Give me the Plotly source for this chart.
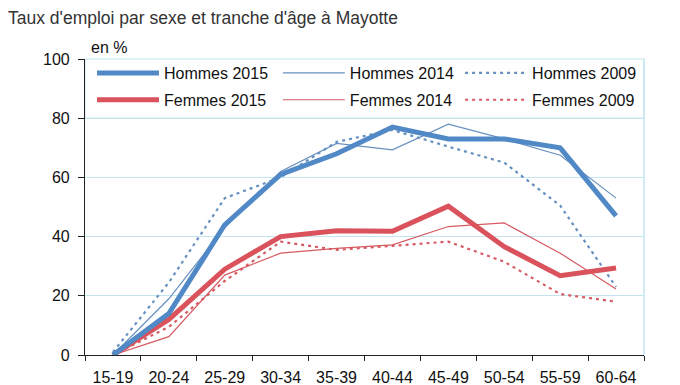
import plotly.graph_objects as go

categories = ["15-19", "20-24", "25-29", "30-34", "35-39", "40-44", "45-49", "50-54", "55-59", "60-64"]

hommes_2015 = [0, 14, 44, 61, 68, 77, 73, 73, 70, 47]
hommes_2014 = [0, 19, 43, 62, 71.5, 69.3, 78, 73, 67.5, 53]
hommes_2009 = [1, 24.5, 53, 60, 72, 76, 70.4, 65, 50.5, 23]
femmes_2015 = [0, 12, 29, 40, 42, 41.8, 50.3, 36.6, 26.8, 29.4]
femmes_2014 = [0, 6.2, 27, 34.4, 36, 37.2, 43.4, 44.6, 34.4, 22.3]
femmes_2009 = [0, 9.5, 25, 38.3, 35.5, 37, 38.3, 31.5, 20.6, 18]

y_ticks = [0, 20, 40, 60, 80, 100]

BLUE = "#5089c6"
BLUE_THIN = "#6790c0"
RED = "#d9525c"
RED_THIN = "#d65a62"
GRID = "#c4e5f0"

fig = go.Figure()

# (name, values, color, width, dash, legend column, rank)
series = [
    ("Hommes 2009", hommes_2009, BLUE_THIN, 2.2, "3px,4px", "legend3", 1),
    ("Femmes 2009", femmes_2009, RED_THIN, 2.2, "3px,4px", "legend3", 2),
    ("Hommes 2014", hommes_2014, BLUE_THIN, 1.2, "solid", "legend2", 1),
    ("Femmes 2014", femmes_2014, RED_THIN, 1.2, "solid", "legend2", 2),
    ("Femmes 2015", femmes_2015, RED, 5, "solid", "legend", 2),
    ("Hommes 2015", hommes_2015, BLUE, 5, "solid", "legend", 1),
]

for name, vals, color, width, dash, leg, rank in series:
    fig.add_trace(go.Scatter(
        x=categories, y=vals, mode="lines", name=name,
        line=dict(color=color, width=width, dash=dash),
        legend=leg, legendrank=rank, legendgroup=name,
        hoverinfo="x+y+name",
    ))

legend_common = dict(
    orientation="v", y=0.907, xanchor="left", yanchor="middle",
    bgcolor="rgba(0,0,0,0)", borderwidth=0,
    traceorder="grouped", tracegroupgap=3, itemwidth=62,
    font=dict(size=16, color="#111"),
)

fig.update_layout(
    width=672, height=377,
    margin=dict(l=77, r=36, t=51, b=30),
    paper_bgcolor="white", plot_bgcolor="white",
    font=dict(family="Liberation Sans, Arial, sans-serif", size=14, color="#111"),
    title=dict(text="Taux d'emploi par sexe et tranche d'âge à Mayotte",
               x=0.0, xanchor="left", y=0.99, yanchor="top", pad=dict(l=0, t=0),
               font=dict(size=17.5, color="#333")),
    showlegend=True,
    legend=dict(x=0.0125, **legend_common),
    legend2=dict(x=0.345, **legend_common),
    legend3=dict(x=0.671, **legend_common),
    xaxis=dict(
        type="category", range=[-0.5, 9.5], tickson="boundaries",
        ticks="outside", ticklen=5, tickcolor="#222",
        showline=True, linecolor="#222", linewidth=1.2,
        showgrid=False, tickfont=dict(size=16, color="#111"),
        ticklabelstandoff=8, fixedrange=True, automargin=False,
    ),
    yaxis=dict(
        range=[0, 100], tickvals=y_ticks, ticks="outside", ticklen=6,
        tickcolor="#222", showline=True, linecolor="#222", linewidth=1.2,
        showgrid=True, gridcolor=GRID, gridwidth=1, zeroline=False,
        tickfont=dict(size=16, color="#111"), ticklabelstandoff=5,
        fixedrange=True, automargin=False,
    ),
    annotations=[dict(text="en %", xref="paper", yref="paper", x=0.008, y=1.005,
                      xanchor="left", yanchor="bottom", showarrow=False,
                      font=dict(size=16, color="#111"))],
    shapes=[
        dict(type="line", xref="paper", yref="paper", x0=1, x1=1, y0=0, y1=1,
             line=dict(color=GRID, width=1.5)),
        dict(type="rect", xref="paper", yref="paper", x0=0.0, x1=1.0,
             y0=0.8, y1=1.0, fillcolor="white", layer="below",
             line=dict(color=GRID, width=1.2)),
    ],
)

fig.write_html("out.html")
